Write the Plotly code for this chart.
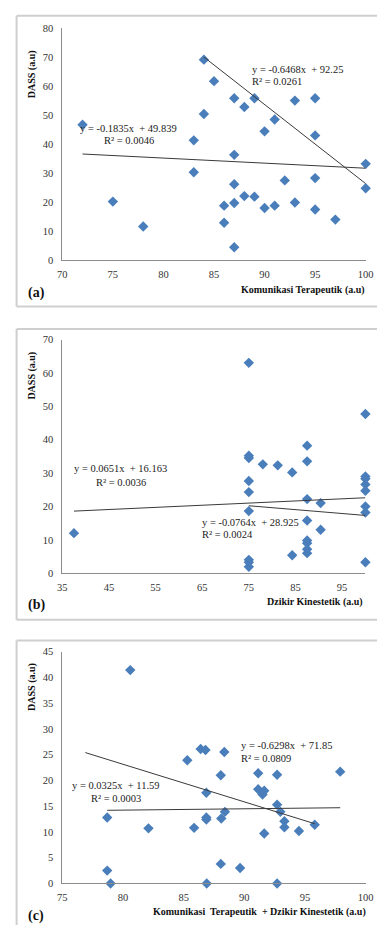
import plotly.graph_objects as go

W, H = 385, 931

# ---------------- data ----------------
# Panel (a): Komunikasi Terapeutik vs DASS
a_x = [72, 84, 85, 87, 88, 89, 93, 95, 84, 91, 90, 95, 83, 87, 83, 100, 75, 78,
       86, 86, 87, 87, 87, 88, 89, 90, 91, 92, 93, 95, 95, 97, 100]
a_y = [46.7, 69.1, 61.7, 55.8, 52.8, 55.8, 55.0, 55.8, 50.4, 48.5, 44.4, 43.0, 41.3,
       36.3, 30.3, 33.2, 20.2, 11.6, 18.8, 12.9, 26.2, 19.7, 4.5, 22.1, 21.9, 18.0,
       18.8, 27.5, 19.9, 28.3, 17.5, 14.0, 24.8]
a_trend1_x = [72, 100]
a_trend1_y = [36.6, 31.7]
a_trend2_x = [84, 100]
a_trend2_y = [70.0, 26.4]
a_eq1 = "y = -0.1835x  + 49.839"
a_r1 = "R² = 0.0046"
a_eq2 = "y = -0.6468x  + 92.25"
a_r2 = "R² = 0.0261"

# Panel (b): Dzikir Kinestetik vs DASS
b_x = [75, 100, 87.5, 75, 75, 78, 81.2, 84.3, 87.5, 100, 100, 100, 100, 75, 75, 87.5,
       90.4, 100, 100, 75, 87.5, 90.4, 37.5, 87.5, 87.5, 87.5, 87.5, 84.3, 75, 75, 75, 100]
b_y = [63.0, 47.7, 38.2, 35.2, 34.5, 32.6, 32.3, 30.2, 33.5, 29.0, 28.3, 26.6, 24.7,
       27.6, 24.3, 22.2, 21.0, 20.0, 18.2, 18.6, 15.8, 13.0, 12.0, 9.8, 9.0, 7.2, 6.0,
       5.4, 4.0, 3.3, 1.9, 3.3]
b_trend1_x = [37.5, 100]
b_trend1_y = [18.6, 22.6]
b_trend2_x = [75, 100]
b_trend2_y = [20.2, 17.3]
b_eq1 = "y = 0.0651x  + 16.163"
b_r1 = "R² = 0.0036"
b_eq2 = "y = -0.0764x  + 28.925"
b_r2 = "R² = 0.0024"

# Panel (c): Komunikasi Terapeutik + Dzikir Kinestetik vs DASS
c_x = [80.6, 85.3, 86.4, 86.8, 88.35, 88.06, 91.14, 92.7, 97.9, 91.14, 91.64, 91.5,
       86.87, 92.7, 92.97, 88.4, 78.7, 86.87, 86.87, 88.1, 93.3, 93.3, 95.8, 82.1,
       85.86, 94.5, 91.64, 88.06, 89.65, 78.7, 78.98, 86.9, 92.7]
c_y = [41.4, 23.9, 26.1, 25.9, 25.5, 21.0, 21.4, 21.1, 21.7, 18.3, 18.0, 17.25, 17.6,
       15.3, 13.9, 13.9, 12.8, 12.8, 12.4, 12.6, 12.1, 10.9, 11.4, 10.7, 10.8, 10.2,
       9.7, 3.8, 3.0, 2.5, 0, 0, 0]
c_trend1_x = [76.9, 95.8]
c_trend1_y = [25.4, 11.6]
c_trend2_x = [78.7, 97.9]
c_trend2_y = [14.2, 14.7]
c_eq1 = "y = -0.6298x  + 71.85"
c_r1 = "R² = 0.0809"
c_eq2 = "y = 0.0325x  + 11.59"
c_r2 = "R² = 0.0003"

y_title = "DASS (a.u)"
x_titles = ["Komunikasi Terapeutik (a.u)",
            "Dzikir Kinestetik (a.u)",
            "Komunikasi  Terapeutik  + Dzikir Kinestetik (a.u)"]
panel_labels = ["(a)", "(b)", "(c)"]

# ---------------- styling ----------------
SERIF = "'Liberation Serif', 'Times New Roman', serif"
MARK = "#4A7EBB"
LINE = "#3a3a3a"
AX = "#8c8c8c"
BORDER = "#cfcfcf"


def px(x, y):
    return x / W, 1 - y / H


# plot areas in pixels: (left, right, top, bottom)
areas = [(59.3, 373.3, 23.3, 258.3),
         (59.3, 373.0, 338.5, 575.0),
         (59.3, 373.3, 654.3, 889.0)]
xranges = [[70, 100], [35, 100], [75, 100]]
xdticks = [5, 10, 5]
yranges = [[0, 80], [0, 70], [0, 45]]
ydticks = [10, 10, 5]

fig = go.Figure()

panels = [
    (a_x, a_y, [(a_trend1_x, a_trend1_y), (a_trend2_x, a_trend2_y)]),
    (b_x, b_y, [(b_trend1_x, b_trend1_y), (b_trend2_x, b_trend2_y)]),
    (c_x, c_y, [(c_trend1_x, c_trend1_y), (c_trend2_x, c_trend2_y)]),
]

for i, (xs, ys, trends) in enumerate(panels):
    xa = "x" if i == 0 else f"x{i+1}"
    ya = "y" if i == 0 else f"y{i+1}"
    fig.add_trace(go.Scatter(x=xs, y=ys, mode="markers", xaxis=xa, yaxis=ya,
                             marker=dict(symbol="diamond", size=8, color=MARK,
                                         line=dict(width=0)),
                             cliponaxis=False, showlegend=False, hoverinfo="skip"))
    for tx, ty in trends:
        fig.add_trace(go.Scatter(x=tx, y=ty, mode="lines", xaxis=xa, yaxis=ya,
                                 line=dict(color=LINE, width=1),
                                 showlegend=False, hoverinfo="skip"))
    l, r, t, b = areas[i]
    xk = "xaxis" if i == 0 else f"xaxis{i+1}"
    yk = "yaxis" if i == 0 else f"yaxis{i+1}"
    fig.update_layout(**{
        xk: dict(domain=[l / W, r / W], anchor=ya, range=xranges[i],
                 tick0=xranges[i][0], dtick=xdticks[i], showgrid=False,
                 zeroline=False, showline=True, linecolor=AX, linewidth=1,
                 ticks="", ticklabelstandoff=4, fixedrange=True,
                 tickfont=dict(family=SERIF, size=10.5, color="#333333")),
        yk: dict(domain=[1 - b / H, 1 - t / H], anchor=xa, range=yranges[i],
                 dtick=ydticks[i], showgrid=False, zeroline=False, showline=True,
                 linecolor=AX, linewidth=1, ticks="", ticklabelstandoff=6,
                 fixedrange=True,
                 tickfont=dict(family=SERIF, size=10.5, color="#333333")),
    })

# panel frames: top, left and bottom edges (the right edge lies past the page)
shapes = []
xl = 12 / W
for (t, b) in [(11, 305), (328, 622), (643, None)]:
    yt = 1 - t / H
    yb = (1 - b / H) if b else 0.0
    shapes.append(dict(type="line", xref="paper", yref="paper", x0=xl, x1=1.0,
                       y0=yt, y1=yt, line=dict(color=BORDER, width=2), layer="below"))
    shapes.append(dict(type="line", xref="paper", yref="paper", x0=xl, x1=xl,
                       y0=yb, y1=yt, line=dict(color=BORDER, width=2), layer="below"))
    if b:
        shapes.append(dict(type="line", xref="paper", yref="paper", x0=xl, x1=1.0,
                           y0=yb, y1=yb, line=dict(color=BORDER, width=2),
                           layer="below"))

annots = []


def add_text(text, x, y, xanchor="left", size=10.5, bold=False, angle=0, color="#222222"):
    ax_, ay_ = px(x, y)
    annots.append(dict(text=f"<b>{text}</b>" if bold else text, x=ax_, y=ay_,
                       xref="paper", yref="paper", xanchor=xanchor, yanchor="middle",
                       showarrow=False, textangle=angle,
                       font=dict(family=SERIF, size=size, color=color)))


# equations (a)
add_text(a_eq2, 254, 65.7)
add_text(a_r2, 254, 77.7)
add_text(a_eq1, 128, 125, xanchor="center")
add_text(a_r1, 128, 137, xanchor="center")
# equations (b)
add_text(b_eq1, 120, 469, xanchor="center")
add_text(b_r1, 120, 483.3, xanchor="center")
add_text(b_eq2, 201.7, 523.3)
add_text(b_r2, 201.7, 536)
# equations (c)
add_text(c_eq1, 242.3, 749.3)
add_text(c_r1, 242.3, 762.3)
add_text(c_eq2, 115.3, 790, xanchor="center")
add_text(c_r2, 115.3, 802.7, xanchor="center")

# axis titles
for ycen in [70, 375, 690]:
    add_text(y_title, 28, ycen, xanchor="center", size=10, bold=True, angle=-90,
             color="#111111")
for (xr, yc), title in zip([(375, 288), (373, 604), (376, 917.7)], x_titles):
    add_text(title.replace("  ", "\u00a0 "), xr, yc, xanchor="right", size=10,
             bold=True, color="#111111")
for yc, lab in zip([291.7, 607, 921.7], panel_labels):
    add_text(lab, 22, yc, size=14, bold=True, color="#111111")

fig.update_layout(width=W, height=H, margin=dict(l=0, r=0, t=0, b=0),
                  paper_bgcolor="white", plot_bgcolor="white",
                  shapes=shapes, annotations=annots, showlegend=False,
                  hovermode=False, dragmode=False)

fig.write_html("out.html", config={"displayModeBar": False, "staticPlot": True},
               post_script="document.body.style.margin='0';"
                           "document.documentElement.style.overflow='hidden';"
                           "document.body.style.overflow='hidden';")
